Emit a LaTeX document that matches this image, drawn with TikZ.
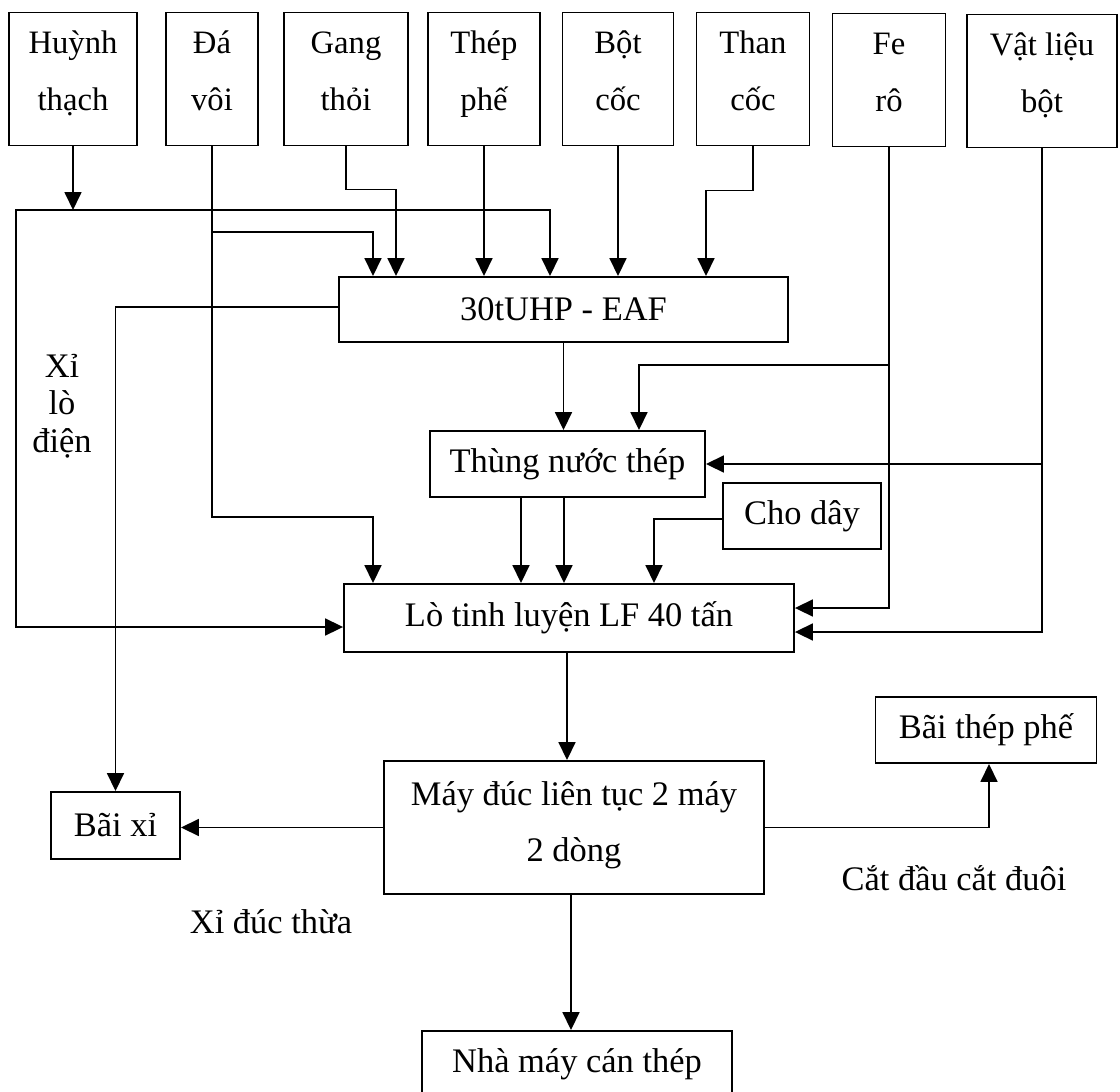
\documentclass[tikz,border=0pt]{standalone}
\usepackage{fontspec}
\setmainfont{Liberation Serif}
\usetikzlibrary{arrows.meta}
\newcommand{\liftup}[1]{\rule[-#1]{0pt}{0pt}}
\tikzset{
  box/.style={draw, line width=1.1pt, inner sep=0pt, align=center, font=\fontsize{19.6}{32.4}\selectfont},
  src/.style={box, minimum height=2.66cm, font=\fontsize{18.6}{32.4}\selectfont},
  lbl/.style={inner sep=0pt, align=center, font=\fontsize{19.6}{21.3}\selectfont},
  arr/.style={line width=1pt, -{Triangle[width=0.34cm,length=0.36cm]}},
  arrboth/.style={line width=1pt, {Triangle[width=0.34cm,length=0.36cm]}-{Triangle[width=0.34cm,length=0.36cm]}}
}
\begin{document}
\begin{tikzpicture}[x=0.02cm,y=-0.02cm]
  \useasboundingbox (0,0) rectangle (1120,1092);
  \clip (0,0) rectangle (1120,1092);
  % Nguyen lieu
  \node[src, minimum width=2.56cm] (huynh) at (73,79) {Huỳnh\\thạch\liftup{0.32cm}};
  \node[src, minimum width=1.84cm] (davoi) at (212,79) {Đá\\vôi\liftup{0.32cm}};
  \node[src, minimum width=2.48cm] (gang) at (346,79) {Gang\\thỏi\liftup{0.32cm}};
  \node[src, minimum width=2.24cm] (thep) at (484,79) {Thép\\phế\liftup{0.32cm}};
  \node[src, minimum width=2.22cm] (botcoc) at (618,79) {Bột\\cốc\liftup{0.32cm}};
  \node[src, minimum width=2.26cm] (thancoc) at (753,79) {Than\\cốc\liftup{0.32cm}};
  \node[src, minimum width=2.26cm] (fero) at (889,80) {Fe\\rô\liftup{0.32cm}};
  \node[src, minimum width=3.0cm] (vatlieu) at (1042,81) {Vật liệu\\bột\liftup{0.32cm}};
  % Lo
  \node[box, minimum width=8.98cm, minimum height=1.30cm] (eaf) at (563.5,309.5) {30tUHP - EAF};
  \node[box, minimum width=5.5cm, minimum height=1.32cm] (thung) at (567.5,464) {Thùng nước thép};
  \node[box, minimum width=3.16cm, minimum height=1.32cm] (choday) at (802,516) {Cho dây};
  \node[box, minimum width=9cm, minimum height=1.36cm] (lf) at (569,618) {Lò tinh luyện LF 40 tấn};
  \node[box, minimum width=7.6cm, minimum height=2.66cm] (mdlt) at (574,827.5) {Máy đúc liên tục 2 máy\\2 dòng\liftup{0.24cm}};
  \node[box, minimum width=2.58cm, minimum height=1.34cm] (baixi) at (115.5,825.5) {Bãi xỉ};
  \node[box, minimum width=4.42cm, minimum height=1.32cm] (baithep) at (986,730) {Bãi thép phế};
  \node[box, minimum width=6.2cm, minimum height=1.32cm] (nhamay) at (577,1064) {Nhà máy cán thép};
  % Chu thich
  \node[lbl] (xilo) at (62,406) {Xỉ\\lò\\điện};
  \node[lbl] (catdau) at (954,878) {Cắt đầu cắt đuôi};
  \node[lbl] (xiduc) at (271,922) {Xỉ đúc thừa};
  % Duong vao EAF
  \coordinate (ytop) at (16,210);
  \draw[arr] (huynh.south) -- (huynh.south |- ytop);
  \draw[arrboth] (eaf.north -| 550,0) |- (ytop) |- (lf.west |- 0,627);
  \draw[arr] (davoi.south) -- (davoi.south |- 0,517) -| (lf.north -| 373,0);
  \draw[arr] (davoi.south |- 0,232) -| (eaf.north -| 373,0);
  \draw[arr] (gang.south) -- ++(0,43) -| (eaf.north -| 396,0);
  \draw[arr] (thep.south) -- (thep.south |- eaf.north);
  \draw[arr] (botcoc.south) -- (botcoc.south |- eaf.north);
  \draw[arr] (thancoc.south) -- ++(0,44) -| (eaf.north -| 706,0);
  % Fe, vat lieu bot
  \draw[arr] (fero.south) |- (lf.east |- 0,608);
  \draw[arr] (fero.south |- 0,365) -| (thung.north -| 639,0);
  \draw[arr] (vatlieu.south) |- (lf.east |- 0,632);
  \draw[arr] (vatlieu.south |- thung.east) -- (thung.east);
  % Thung, LF
  \draw[arr] (eaf.south) -- (eaf.south |- thung.north);
  \draw[arr] (eaf.west |- 0,307) -| (baixi.north);
  \draw[arr] (thung.south -| 521,0) -- (lf.north -| 521,0);
  \draw[arr] (thung.south -| 564,0) -- (lf.north -| 564,0);
  \draw[arr] (choday.west |- 0,519) -| (lf.north -| 654,0);
  % Duc
  \draw[arr] (lf.south -| 567,0) -- (mdlt.north -| 567,0);
  \draw[arr] (mdlt.west) -- (mdlt.west -| baixi.east);
  \draw[arr] (mdlt.east) -| (baithep.south -| 989,0);
  \draw[arr] (mdlt.south -| 571,0) -- (nhamay.north -| 571,0);
\end{tikzpicture}
\end{document}
